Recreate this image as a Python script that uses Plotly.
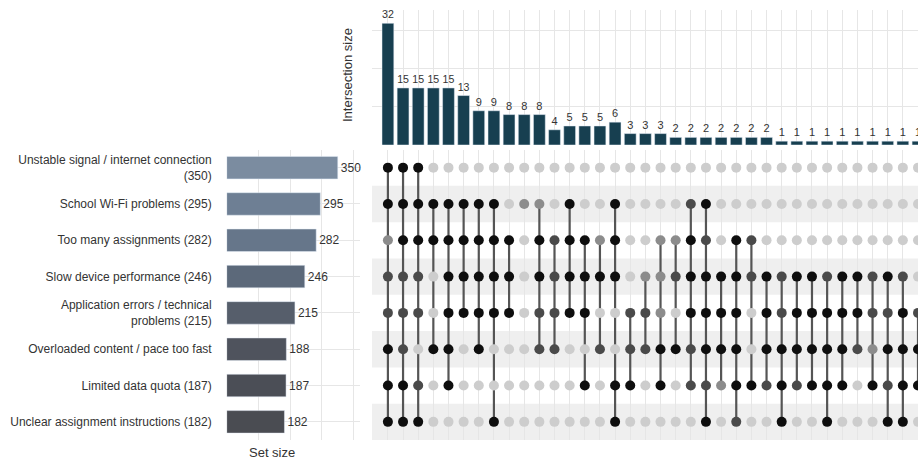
import plotly.graph_objects as go

# Sets (top to bottom) and their sizes
set_labels = [
    "Unstable signal / internet connection<br>(350)",
    "School Wi-Fi problems (295)",
    "Too many assignments (282)",
    "Slow device performance (246)",
    "Application errors / technical<br>problems (215)",
    "Overloaded content / pace too fast",
    "Limited data quota (187)",
    "Unclear assignment instructions (182)",
]
set_sizes = [350, 295, 282, 246, 215, 188, 187, 182]

# Intersection sizes, one per column of the matrix
intersection_sizes = [32, 15, 15, 15, 15, 13, 9, 9, 8, 8, 8, 4, 5, 5, 5, 6,
                      3, 3, 3, 2, 2, 2, 2, 2, 2, 2, 1, 1, 1, 1, 1, 1, 1, 1, 1, 1]

# Dot shade per column, read top (set 1) to bottom (set 8):
# B = black, D = dark grey, M = mid grey, L = light (not highlighted)
matrix_columns = [
    "BBMDDBBB", "BBBDDDBB", "BBBDDLDB", "LBBLLBLL", "LBBBBBBL", "LBBBBLLL",
    "LBBBBBLL", "LBBBBLLB", "LLBBBLLL", "LMLLLLLL", "LMBBDDLL", "LLDDDDLL",
    "LBBBBLLL", "LLBBBLBL", "LLMBLDLL", "LBBBLLBB", "LLLLDDBL", "LLLMDDLL",
    "LLMMMBBL", "LLMDLBLL", "LDBBBDDL", "LBDBBBDB", "LLLBBBML", "LLBBBBBD",
    "LLDDLLBL", "LLLBBBDL", "LLLDDBBB", "LLLBBBDL", "LLLBBBBL", "LLLDBBBB",
    "LLLBBBBL", "LLLBBDLL", "LLLDDMBL", "LLLBDBDB", "LLLDBBBB", "LLLLDBBL",
]

shade_colors = {"L": "#cdcdcd", "M": "#8c8c8c", "D": "#4a4a4a", "B": "#0e0e0e"}
set_bar_colors = ["#7b8ca0", "#6e7f94", "#66768a", "#5c697a", "#565e6b",
                  "#4f535d", "#4b4e56", "#4a4c52"]
bar_color = "#173f50"
text_color = "#333333"
grid_color = "#e6e6e6"
font_family = "Liberation Sans, Arial, sans-serif"

W, H = 918, 465
n_cols = len(intersection_sizes)
n_sets = len(set_labels)
cols = list(range(n_cols))
rows = list(range(n_sets))


def px_x(p):
    return p / W


def px_y(p):
    return 1 - p / H


fig = go.Figure()

# Intersection size bars
fig.add_trace(go.Bar(
    x=cols, y=intersection_sizes, marker_color=bar_color, width=0.78,
    text=intersection_sizes, textposition="outside", cliponaxis=False,
    textfont=dict(size=11, color=text_color, family=font_family),
    xaxis="x", yaxis="y", showlegend=False, hoverinfo="skip",
))

# Connecting segments between highlighted dots
seg_x, seg_y = [], []
for c, col in enumerate(matrix_columns):
    active = [r for r, s in enumerate(col) if s != "L"]
    if len(active) >= 2:
        seg_x += [c, c, None]
        seg_y += [min(active), max(active), None]
fig.add_trace(go.Scatter(
    x=seg_x, y=seg_y, mode="lines", line=dict(color="#555555", width=2.2),
    xaxis="x", yaxis="y2", showlegend=False, hoverinfo="skip",
))

# Matrix dots, grouped by shade
for shade in ["L", "M", "D", "B"]:
    xs, ys = [], []
    for c, col in enumerate(matrix_columns):
        for r, s in enumerate(col):
            if s == shade:
                xs.append(c)
                ys.append(r)
    fig.add_trace(go.Scatter(
        x=xs, y=ys, mode="markers",
        marker=dict(size=10, color=shade_colors[shade], line=dict(width=0)),
        xaxis="x", yaxis="y2", showlegend=False, hoverinfo="skip",
        cliponaxis=True,
    ))

# Set size bars
fig.add_trace(go.Bar(
    x=set_sizes, y=rows, orientation="h", marker_color=set_bar_colors,
    width=0.62, text=set_sizes, textposition="outside", cliponaxis=False,
    textfont=dict(size=12, color=text_color, family=font_family),
    xaxis="x3", yaxis="y3", showlegend=False, hoverinfo="skip",
))

# Alternating row stripes behind the matrix
shapes = []
for r in rows:
    if r % 2 == 1:
        shapes.append(dict(
            type="rect", xref="x domain", yref="y2",
            x0=0, x1=1, y0=r - 0.5, y1=r + 0.5,
            fillcolor="#efefef", line=dict(width=0), layer="below",
        ))

x_range = [-1.05, n_cols - 1]
fig.update_layout(
    width=W, height=H,
    margin=dict(l=0, r=0, t=0, b=0),
    paper_bgcolor="white", plot_bgcolor="rgba(0,0,0,0)",
    font=dict(family=font_family, color=text_color, size=12),
    bargap=0.2,
    shapes=shapes,
    xaxis=dict(domain=[px_x(372), 1], range=x_range, showticklabels=False,
               showgrid=True, gridcolor=grid_color, dtick=1, tick0=0,
               zeroline=False, showline=False, anchor="y2"),
    yaxis=dict(domain=[px_y(145), px_y(10)], range=[0, 35.5],
               showticklabels=False, showgrid=True, gridcolor=grid_color,
               dtick=10, zeroline=False, showline=False, anchor="x"),
    yaxis2=dict(domain=[px_y(440), px_y(149.5)], range=[n_sets - 0.5, -0.5],
                showticklabels=False, showgrid=False, zeroline=False,
                showline=False, anchor="x"),
    xaxis3=dict(domain=[px_x(226.7), px_x(360)], range=[0, 420],
                showticklabels=False, showgrid=True, gridcolor=grid_color,
                dtick=100, zeroline=False, showline=False, anchor="y3"),
    yaxis3=dict(domain=[px_y(440), px_y(149.5)], range=[n_sets - 0.5, -0.5],
                tickvals=rows, ticktext=set_labels, showgrid=True,
                gridcolor=grid_color, zeroline=False, showline=False,
                ticks="", ticklabelstandoff=14, anchor="x3",
                tickfont=dict(size=12, color=text_color, family=font_family)),
    annotations=[
        dict(text="Intersection size", textangle=-90, x=px_x(348),
             y=px_y(75), xref="paper", yref="paper", showarrow=False,
             xanchor="center", yanchor="middle",
             font=dict(size=13, color=text_color, family=font_family)),
        dict(text="Set size", x=px_x(272), y=px_y(452), xref="paper",
             yref="paper", showarrow=False, xanchor="center",
             yanchor="middle",
             font=dict(size=13, color=text_color, family=font_family)),
    ],
)

fig.write_html("out.html")
